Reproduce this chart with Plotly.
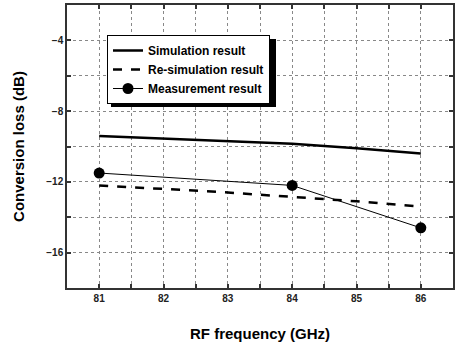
import plotly.graph_objects as go

freq = [81, 82, 83, 84, 85, 86]
sim = [-9.4, -9.55, -9.7, -9.85, -10.1, -10.4]
resim = [-12.2, -12.4, -12.6, -12.85, -13.1, -13.4]
meas_freq = [81, 84, 86]
meas = [-11.5, -12.2, -14.6]

FONT = "Liberation Sans, Arial, sans-serif"

fig = go.Figure()
fig.add_trace(go.Scatter(x=freq, y=sim, mode="lines", name="<b>Simulation result</b>",
                         line=dict(color="black", width=2.5)))
fig.add_trace(go.Scatter(x=freq, y=resim, mode="lines", name="<b>Re-simulation result</b>",
                         line=dict(color="black", width=2.5, dash="dash")))
fig.add_trace(go.Scatter(x=meas_freq, y=meas, mode="lines+markers", name="<b>Measurement result</b>",
                         line=dict(color="black", width=1),
                         marker=dict(symbol="circle", size=11, color="black")))

axis_common = dict(
    showline=True, linecolor="#333", linewidth=1.5, mirror="ticks",
    ticks="inside", ticklen=4, tickcolor="#333", tickwidth=1.5,
    showgrid=True, gridcolor="#888", griddash="dot", gridwidth=1,
    zeroline=False, automargin=False,
    tickfont=dict(family=FONT, size=10, color="#222"),
    tickprefix="<b>", ticksuffix="</b>",
)

fig.update_xaxes(range=[80.5, 86.5], dtick=1, tick0=81,
                 minor=dict(dtick=0.5, showgrid=True, gridcolor="#888", griddash="dot",
                            ticks="inside", ticklen=4, tickcolor="#333"),
                 title=dict(text="<b>RF frequency (GHz)</b>", font=dict(family=FONT, size=15, color="black"),
                            standoff=26),
                 **axis_common)
fig.update_yaxes(range=[-18, -2], dtick=4, tick0=-4,
                 minor=dict(dtick=2, showgrid=True, gridcolor="#888", griddash="dot",
                            ticks="inside", ticklen=4, tickcolor="#333"),
                 title=dict(text="<b>Conversion loss (dB)</b>", font=dict(family=FONT, size=15, color="black"),
                            standoff=18),
                 **axis_common)

# legend drop shadow (pixel positions converted to paper coords)
PL, PW, PB, PH = 67, 386, 288, 283
fig.add_shape(type="rect", xref="paper", yref="paper",
              x0=(111 - PL) / PW, x1=(276 - PL) / PW,
              y0=(PB - 107) / PH, y1=(PB - 39) / PH,
              fillcolor="black", line=dict(width=0), layer="above")

fig.update_layout(
    width=455, height=342,
    margin=dict(l=67, r=2, t=5, b=54, autoexpand=False),
    plot_bgcolor="white", paper_bgcolor="white",
    showlegend=True,
    legend=dict(x=(107 - PL) / PW, y=(PB - 35) / PH, xanchor="left", yanchor="top",
                bgcolor="white", bordercolor="black", borderwidth=1,
                font=dict(family=FONT, size=12, color="black"),
                tracegroupgap=0, itemwidth=30),
)

fig.write_html("out.html", config={"displayModeBar": False},
               post_script="document.body.style.margin='0';")
